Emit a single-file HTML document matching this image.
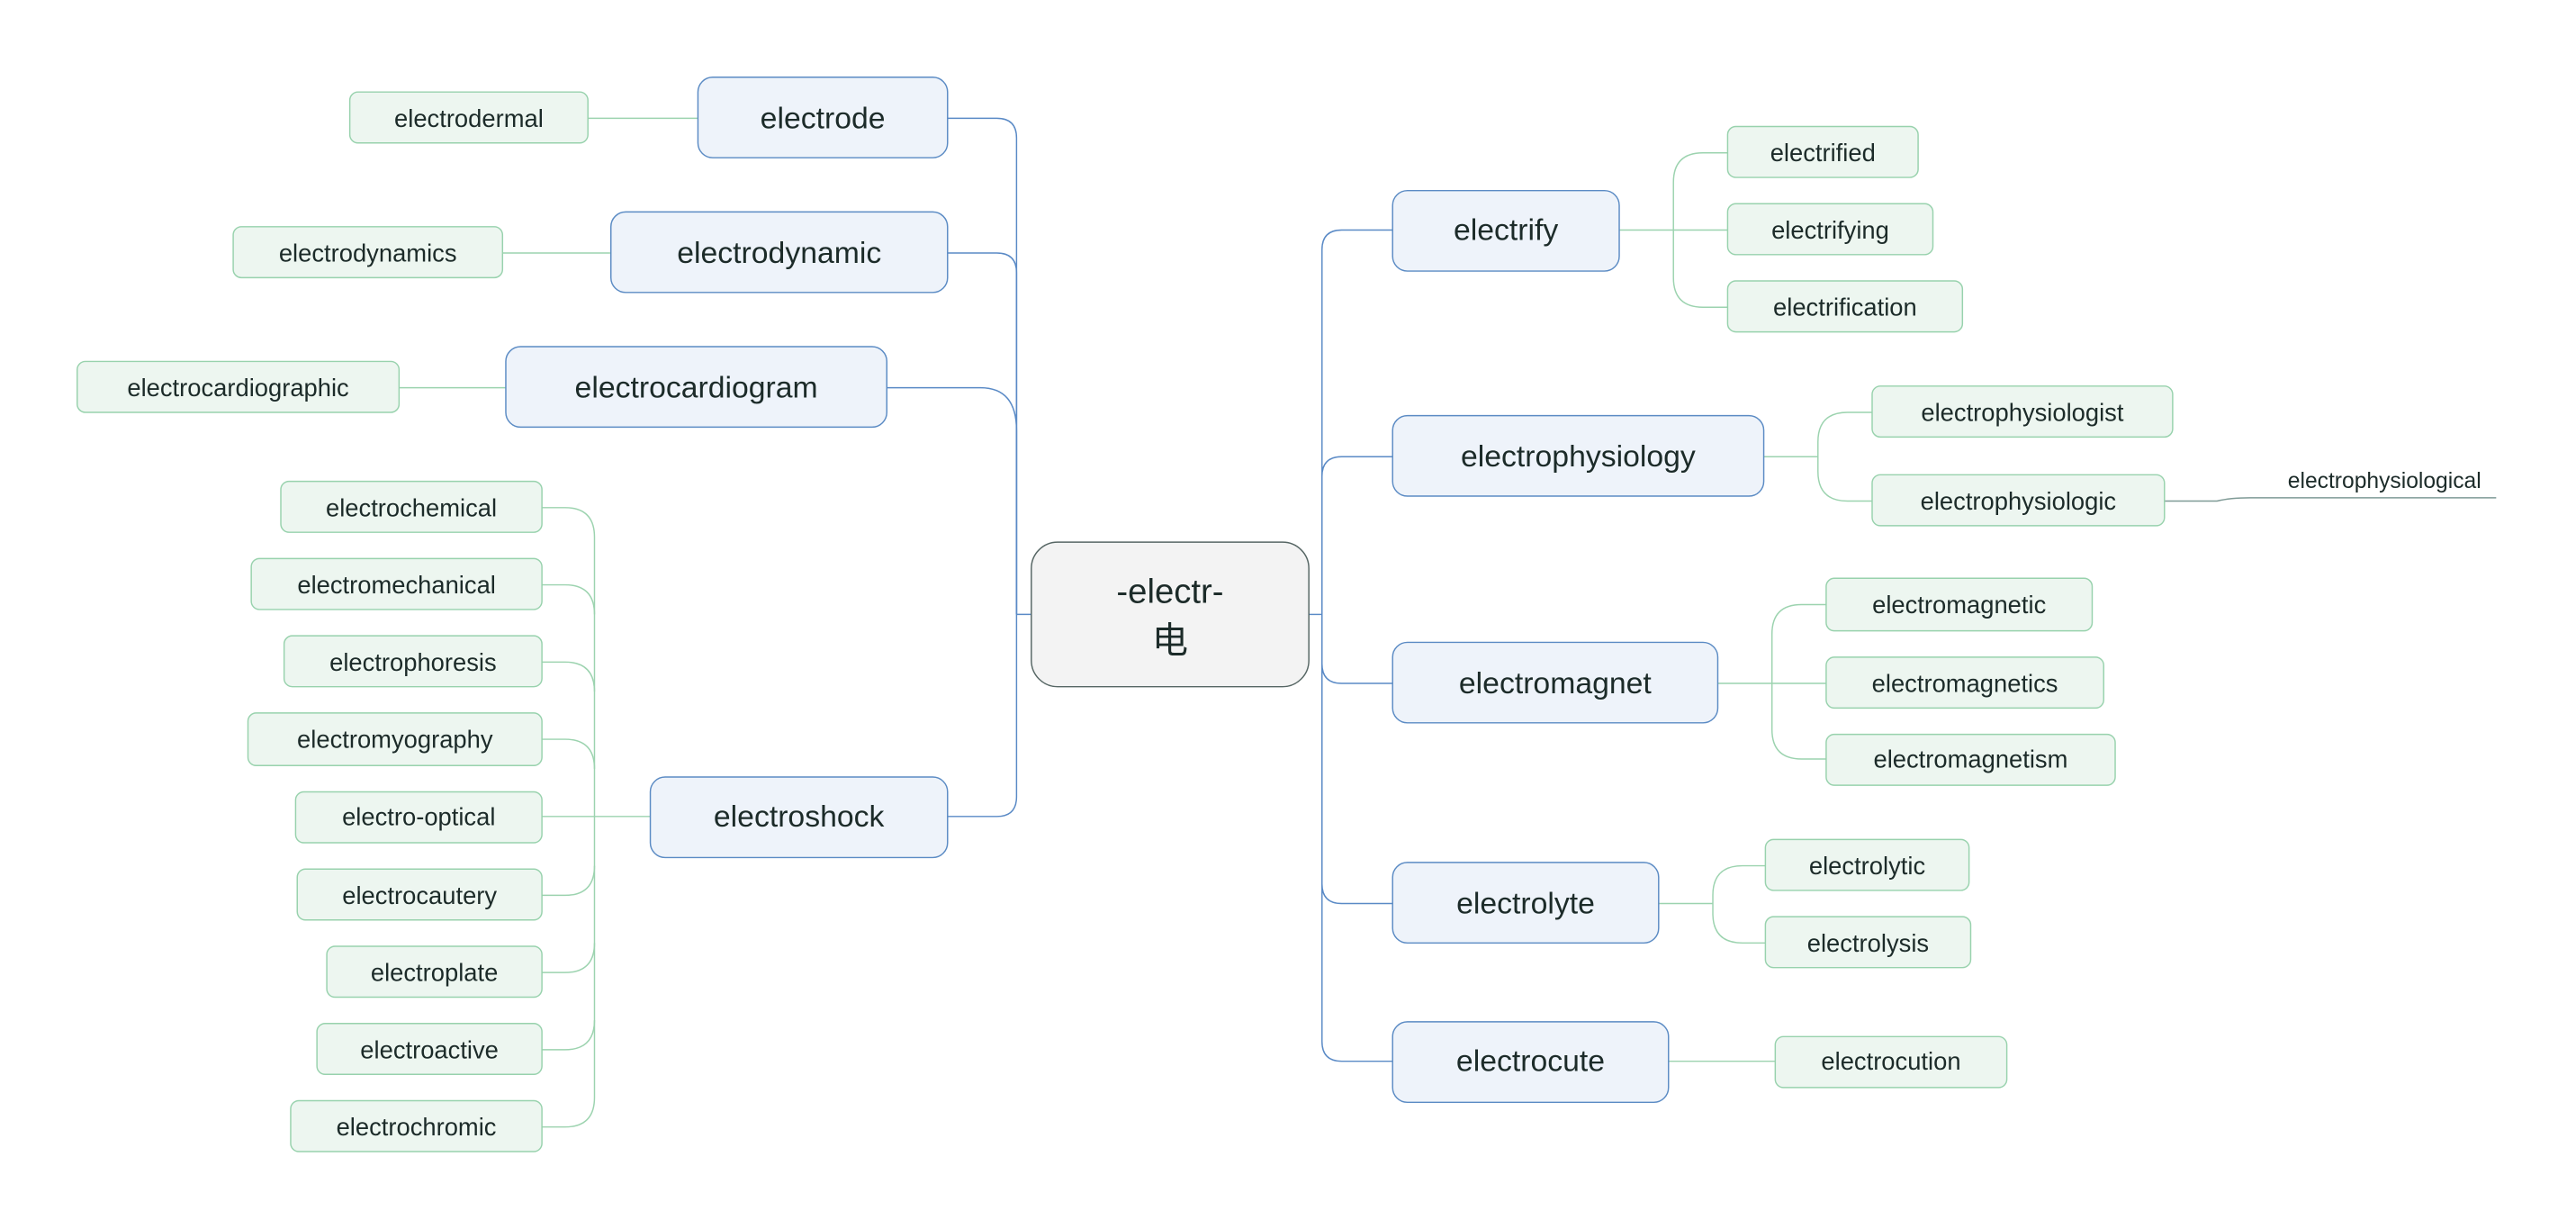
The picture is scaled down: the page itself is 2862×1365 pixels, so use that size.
<!DOCTYPE html>
<html><head><meta charset="utf-8"><style>
html,body{margin:0;padding:0;background:#fff;}
svg{display:block;}
text{font-family:"Liberation Sans","Noto Sans CJK SC",sans-serif;fill:#1c2b29;text-anchor:middle;dominant-baseline:central;}
.m rect{fill:#eef3fa;stroke:#5b8bc4;stroke-width:0.8;}
.l rect{fill:#edf6f0;stroke:#98d2ad;stroke-width:0.8;}
.m text{font-size:18.5px;}
.l text{font-size:15px;}
.cm{fill:none;stroke:#5a8ac6;stroke-width:0.8;}
.cl{fill:none;stroke:#9cd3af;stroke-width:0.8;}
</style></head><body>
<svg width="2862" height="1365" viewBox="0 0 1568.6 748.1" xmlns="http://www.w3.org/2000/svg">
<!-- main connectors left -->
<path class="cm" d="M577,72 H607 Q619,72 619,84 V374"/>
<path class="cm" d="M577,154 H607 Q619,154 619,166 V374"/>
<path class="cm" d="M540,236 H597 Q619,236 619,262 V374"/>
<path class="cm" d="M577,497 H607 Q619,497 619,485 V374"/>
<path class="cm" d="M619,374 H628"/>
<!-- main connectors right -->
<path class="cm" d="M797,374 H805"/>
<path class="cm" d="M805,374 V152 Q805,140 817,140 H848"/>
<path class="cm" d="M805,374 V290 Q805,278 817,278 H848"/>
<path class="cm" d="M805,374 V404 Q805,416 817,416 H848"/>
<path class="cm" d="M805,374 V538 Q805,550 817,550 H848"/>
<path class="cm" d="M805,374 V634 Q805,646 817,646 H848"/>
<!-- leaf connectors left -->
<path class="cl" d="M358,72 H425"/>
<path class="cl" d="M306,154 H372"/>
<path class="cl" d="M243,236 H308"/>
<path class="cl" d="M330,497 H396"/>
<path class="cl" d="M330,309 H344 Q362,309 362,327 V668 Q362,686 344,686 H330"/>
<path class="cl" d="M330,356 H344 Q362,356 362,374"/>
<path class="cl" d="M330,403 H344 Q362,403 362,421"/>
<path class="cl" d="M330,450 H344 Q362,450 362,468"/>
<path class="cl" d="M330,545 H344 Q362,545 362,527"/>
<path class="cl" d="M330,592 H344 Q362,592 362,574"/>
<path class="cl" d="M330,639 H344 Q362,639 362,621"/>
<!-- leaf connectors right -->
<path class="cl" d="M986,140 H1052"/>
<path class="cl" d="M1052,93 H1037 Q1019,93 1019,111 V169 Q1019,187 1037,187 H1052"/>
<path class="cl" d="M1074,278 H1107"/>
<path class="cl" d="M1140,251 H1125 Q1107,251 1107,269 V287 Q1107,305 1125,305 H1140"/>
<path class="cl" d="M1318,305 H1350 Q1358,303 1370,303 H1520" style="stroke:#7f9a96"/>
<path class="cl" d="M1046,416 H1112"/>
<path class="cl" d="M1112,368 H1097 Q1079,368 1079,386 V444 Q1079,462 1097,462 H1112"/>
<path class="cl" d="M1010,550 H1043"/>
<path class="cl" d="M1075,527 H1061 Q1043,527 1043,545 V556 Q1043,574 1061,574 H1075"/>
<path class="cl" d="M1016,646 H1081"/>

<!-- center -->
<rect x="628" y="330" width="169" height="88" rx="16" fill="#f3f3f3" stroke="#566664" stroke-width="0.8"/>
<text x="712.5" y="360" style="font-size:21px">-electr-</text>
<text x="712.5" y="390" style="font-size:22px">电</text>

<!-- main nodes -->
<g class="m">
<rect x="425" y="47" width="152" height="49" rx="9"/><text x="501" y="72">electrode</text>
<rect x="372" y="129" width="205" height="49" rx="9"/><text x="474.5" y="154">electrodynamic</text>
<rect x="308" y="211" width="232" height="49" rx="9"/><text x="424" y="236">electrocardiogram</text>
<rect x="396" y="473" width="181" height="49" rx="9"/><text x="486.5" y="497">electroshock</text>
<rect x="848" y="116" width="138" height="49" rx="9"/><text x="917" y="140">electrify</text>
<rect x="848" y="253" width="226" height="49" rx="9"/><text x="961" y="278">electrophysiology</text>
<rect x="848" y="391" width="198" height="49" rx="9"/><text x="947" y="416">electromagnet</text>
<rect x="848" y="525" width="162" height="49" rx="9"/><text x="929" y="550">electrolyte</text>
<rect x="848" y="622" width="168" height="49" rx="9"/><text x="932" y="646">electrocute</text>
</g>

<!-- leaves -->
<g class="l">
<rect x="213" y="56" width="145" height="31" rx="5"/><text x="285.5" y="72">electrodermal</text>
<rect x="142" y="138" width="164" height="31" rx="5"/><text x="224" y="154">electrodynamics</text>
<rect x="47" y="220" width="196" height="31" rx="5"/><text x="145" y="236">electrocardiographic</text>
<rect x="171" y="293" width="159" height="31" rx="5"/><text x="250.5" y="309">electrochemical</text>
<rect x="153" y="340" width="177" height="31" rx="5"/><text x="241.5" y="356">electromechanical</text>
<rect x="173" y="387" width="157" height="31" rx="5"/><text x="251.5" y="403">electrophoresis</text>
<rect x="151" y="434" width="179" height="32" rx="5"/><text x="240.5" y="450">electromyography</text>
<rect x="180" y="482" width="150" height="31" rx="5"/><text x="255" y="497">electro-optical</text>
<rect x="181" y="529" width="149" height="31" rx="5"/><text x="255.5" y="545">electrocautery</text>
<rect x="199" y="576" width="131" height="31" rx="5"/><text x="264.5" y="592">electroplate</text>
<rect x="193" y="623" width="137" height="31" rx="5"/><text x="261.5" y="639">electroactive</text>
<rect x="177" y="670" width="153" height="31" rx="5"/><text x="253.5" y="686">electrochromic</text>

<rect x="1052" y="77" width="116" height="31" rx="5"/><text x="1110" y="93">electrified</text>
<rect x="1052" y="124" width="125" height="31" rx="5"/><text x="1114.5" y="140">electrifying</text>
<rect x="1052" y="171" width="143" height="31" rx="5"/><text x="1123.5" y="187">electrification</text>
<rect x="1140" y="235" width="183" height="31" rx="5"/><text x="1231.5" y="251">electrophysiologist</text>
<rect x="1140" y="289" width="178" height="31" rx="5"/><text x="1229" y="305">electrophysiologic</text>
<rect x="1112" y="352" width="162" height="32" rx="5"/><text x="1193" y="368">electromagnetic</text>
<rect x="1112" y="400" width="169" height="31" rx="5"/><text x="1196.5" y="416">electromagnetics</text>
<rect x="1112" y="447" width="176" height="31" rx="5"/><text x="1200" y="462">electromagnetism</text>
<rect x="1075" y="511" width="124" height="31" rx="5"/><text x="1137" y="527">electrolytic</text>
<rect x="1075" y="558" width="125" height="31" rx="5"/><text x="1137.5" y="574">electrolysis</text>
<rect x="1081" y="631" width="141" height="31" rx="5"/><text x="1151.5" y="646">electrocution</text>
</g>
<text x="1452" y="293" style="font-size:13.5px">electrophysiological</text>
</svg>
</body></html>
